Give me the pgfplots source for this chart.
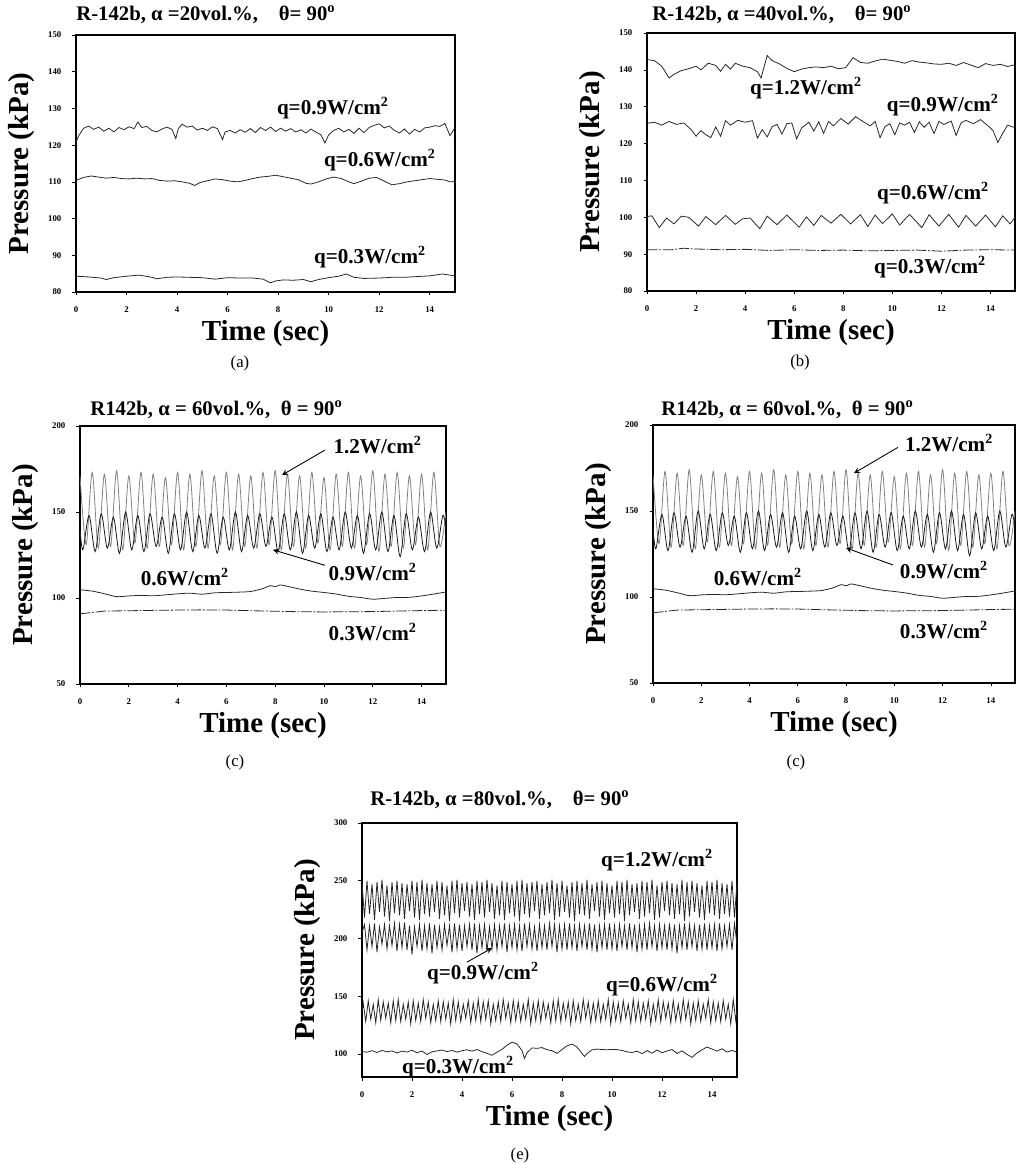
\documentclass[border=0pt]{standalone}
\usepackage{fontspec}
\setmainfont{Liberation Serif}
\usepackage{pgfplots}
\usepackage{pgfplotstable}
\pgfplotsset{compat=1.18}

\pgfplotsset{
  panel/.style={
    scale only axis,
    xmin=0, xmax=15,
    xtick={0,2,...,14},
    axis line style={line width=0.6pt},
    tick style={black, line width=0.4pt},
    major tick length=0.07cm,
    tick align=outside,
    tick pos=left,
    ticklabel style={font=\fontsize{5}{6}\selectfont\bfseries},
    /pgf/number format/assume math mode=true,
    xticklabel style={yshift=-0.1cm},
    yticklabel style={xshift=-0.1cm},
    xlabel={Time (sec)},
    ylabel={Pressure (kPa)},
    every axis x label/.style={at={(axis description cs:0.5,0)}, yshift=-0.84cm, anchor=center,
      font=\fontsize{16.5}{18}\selectfont\bfseries},
    every axis y label/.style={at={(axis description cs:0,0.5)}, xshift=-1.08cm, rotate=90, anchor=center,
      font=\fontsize{16.5}{18}\selectfont\bfseries},
    clip mode=individual,
    cycle list={{black!85}},
    every axis plot/.append style={line width=0.45pt, no markers},
  },
}
\tikzset{
  lab/.style={font=\fontsize{12}{14}\selectfont\bfseries},
  ttl/.style={anchor=west, inner sep=0pt, font=\fontsize{11.8}{13}\selectfont\bfseries},
  sub/.style={font=\fontsize{9.5}{11}\selectfont},
}

% panel (c): 1.2 W/cm2 and 0.9 W/cm2 (same data in both (c) panels)
\pgfplotstableread{
t p
0 171
0.25 131
0.5 173
0.75 129
1.0 172
1.25 130
1.5 174
1.75 128
2.0 171
2.25 132
2.5 173
2.75 129
3.0 172
3.25 130
3.5 170
3.75 131
4.0 173
4.25 128
4.5 172
4.75 130
5.0 174
5.25 129
5.5 171
5.75 131
6.0 173
6.25 128
6.5 172
6.75 130
7.0 171
7.25 129
7.5 173
7.75 131
8.0 174
8.25 128
8.5 172
8.75 130
9.0 171
9.25 129
9.5 173
9.75 132
10.0 170
10.25 128
10.5 172
10.75 130
11.0 173
11.25 129
11.5 171
11.75 131
12.0 174
12.25 127
12.5 172
12.75 130
13.0 173
13.25 129
13.5 171
13.75 131
14.0 172
14.25 128
14.5 173
14.75 130
15.0 150
}\cTwelve

\pgfplotstableread{
t p
0 140
0.12 128
0.37 148
0.62 127
0.87 149
1.12 129
1.37 147
1.62 126
1.87 150
2.12 128
2.37 148
2.62 127
2.87 149
3.12 130
3.37 147
3.62 126
3.87 149
4.12 128
4.37 150
4.62 127
4.87 148
5.12 129
5.37 149
5.62 126
5.87 147
6.12 128
6.37 150
6.62 127
6.87 148
7.12 129
7.37 149
7.62 130
7.87 147
8.12 127
8.37 149
8.62 128
8.87 150
9.12 126
9.37 148
9.62 129
9.87 149
10.12 127
10.37 147
10.62 128
10.87 150
11.12 129
11.37 148
11.62 126
11.87 149
12.12 128
12.37 150
12.62 127
12.87 148
13.12 124
13.37 149
13.62 128
13.87 147
14.12 127
14.37 150
14.62 129
14.87 148
15.0 140
}\cNine

\pgfplotstableread{
t p
0 104.8
0.5 104.0
1.0 102.5
1.5 100.8
2.0 101.2
2.5 101.5
3.0 101.3
3.5 101.8
4.0 102.4
4.5 102.8
5.0 102.2
5.5 103.0
6.0 103.2
6.5 103.4
7.0 103.8
7.5 105.5
7.8 107.2
8.0 106.5
8.2 107.6
8.5 106.8
9.0 105.2
9.5 104.0
10.0 103.2
10.5 102.3
11.0 101.0
11.5 100.3
12.0 99.3
12.5 99.8
13.0 100.3
13.5 100.4
14.0 101.2
14.5 102.3
15.0 103.5
}\cSix

\pgfplotstableread{
t p
0 90.8
0.5 91.6
1.0 92.4
2.0 92.6
3.0 92.8
4.0 93.0
5.0 93.1
6.0 93.0
7.0 92.6
8.0 92.3
9.0 92.0
10.0 91.9
11.0 92.0
12.0 92.1
13.0 92.4
14.0 92.7
15.0 92.9
}\cThree

\begin{document}
\begin{tikzpicture}
\useasboundingbox (0,0) rectangle (20.32,23.28);

% ---------------- (a) ----------------
\begin{axis}[panel, at={(1.52cm,17.44cm)}, anchor=south west,
    width=7.58cm, height=5.14cm, ymin=80, ymax=150, ytick={80,90,...,150}]
\addplot coordinates {(0,120.8)(0.1,122.5)(0.3,124.6)(0.5,125.2)(0.7,124.3)(0.9,124.9)(1.1,123.8)(1.3,124.6)(1.5,123.6)(1.7,124.8)(1.9,124.2)(2.1,125.0)(2.3,124.5)(2.45,126.3)(2.6,124.8)(2.8,125.1)(3.0,124.0)(3.2,123.6)(3.4,124.4)(3.6,124.9)(3.8,124.3)(3.95,121.8)(4.05,124.5)(4.2,125.7)(4.4,124.9)(4.6,125.2)(4.8,124.1)(5.0,124.6)(5.2,124.0)(5.4,125.0)(5.6,124.5)(5.8,121.5)(5.9,123.6)(6.1,124.0)(6.3,123.3)(6.5,124.2)(6.7,123.5)(6.9,124.5)(7.1,123.4)(7.3,124.8)(7.5,124.0)(7.7,124.9)(7.9,123.7)(8.1,124.6)(8.3,123.8)(8.5,124.5)(8.7,123.6)(8.9,124.2)(9.1,123.3)(9.3,124.4)(9.5,123.5)(9.7,122.8)(9.85,120.6)(10.0,122.8)(10.2,124.0)(10.4,124.6)(10.6,123.6)(10.8,124.3)(11.0,123.2)(11.2,124.6)(11.4,123.4)(11.6,124.8)(11.8,125.4)(12.0,125.8)(12.2,124.7)(12.4,125.2)(12.6,124.0)(12.8,123.3)(13.0,124.4)(13.2,123.0)(13.4,124.3)(13.6,123.6)(13.8,124.7)(14.0,124.9)(14.2,125.3)(14.4,125.1)(14.6,125.9)(14.8,122.6)(15.0,124.8)};
\addplot coordinates {(0,110.4)(0.3,111.2)(0.6,111.6)(0.9,111.3)(1.2,111.0)(1.5,111.2)(1.8,110.9)(2.1,110.8)(2.4,111.0)(2.7,110.8)(3.0,110.9)(3.3,110.4)(3.6,110.2)(3.9,110.3)(4.2,110.0)(4.5,109.6)(4.7,109.0)(4.9,109.8)(5.2,110.3)(5.5,110.8)(5.8,110.6)(6.1,110.2)(6.4,110.0)(6.7,110.4)(7.0,110.9)(7.3,111.3)(7.6,111.5)(7.9,111.8)(8.2,111.4)(8.5,111.0)(8.8,110.6)(9.1,109.6)(9.3,109.4)(9.6,110.0)(9.9,110.8)(10.2,111.3)(10.5,110.9)(10.8,110.0)(11.0,109.5)(11.3,110.2)(11.6,111.0)(11.9,111.2)(12.2,110.2)(12.5,109.2)(12.8,109.5)(13.1,110.0)(13.4,110.3)(13.7,110.6)(14.0,110.9)(14.3,110.7)(14.6,110.5)(14.8,110.0)(15.0,110.1)};
\addplot coordinates {(0,84.3)(0.5,84.1)(1.0,83.8)(1.2,83.4)(1.5,83.9)(2.0,84.3)(2.5,84.6)(3.0,84.0)(3.2,83.6)(3.6,84.0)(4.0,84.1)(4.5,84.0)(5.0,83.9)(5.5,83.5)(6.0,83.9)(6.5,83.8)(7.0,83.8)(7.4,83.5)(7.7,82.5)(7.9,83.0)(8.2,83.3)(8.6,83.2)(9.0,83.4)(9.3,82.8)(9.6,83.4)(10.0,83.9)(10.4,84.3)(10.7,84.9)(11.0,84.0)(11.4,83.7)(12.0,83.8)(12.5,84.0)(13.0,84.0)(13.5,84.2)(14.0,84.4)(14.5,84.9)(15.0,84.4)};
\node[lab] at (axis cs:10.17,130.1) {q=0.9W/cm\textsuperscript{2}};
\node[lab] at (axis cs:12.03,116.0) {q=0.6W/cm\textsuperscript{2}};
\node[lab] at (axis cs:11.64,89.5) {q=0.3W/cm\textsuperscript{2}};
\end{axis}

% ---------------- (b) ----------------
\begin{axis}[panel, at={(12.94cm,17.46cm)}, anchor=south west,
    width=7.36cm, height=5.16cm, ymin=80, ymax=150, ytick={80,90,...,150}]
\addplot coordinates {(0,142.8)(0.3,142.5)(0.6,141.0)(0.9,137.8)(1.1,138.8)(1.4,139.8)(1.7,140.3)(2.0,141.0)(2.2,140.0)(2.5,141.8)(2.8,141.2)(3.0,139.6)(3.2,141.5)(3.4,140.2)(3.6,141.8)(3.9,141.0)(4.2,140.6)(4.5,139.5)(4.65,137.8)(4.9,143.9)(5.1,142.5)(5.4,141.6)(5.7,140.4)(6.0,139.5)(6.3,140.2)(6.6,140.6)(6.9,140.8)(7.2,140.6)(7.5,141.0)(7.8,140.3)(8.1,140.6)(8.4,143.3)(8.7,142.0)(9.0,141.8)(9.3,142.4)(9.6,142.9)(9.9,142.6)(10.2,142.3)(10.5,141.8)(10.8,142.5)(11.1,142.1)(11.4,141.9)(11.7,141.6)(12.0,141.5)(12.3,141.8)(12.6,141.2)(12.9,142.0)(13.2,141.3)(13.5,140.6)(13.8,141.7)(14.1,141.2)(14.4,141.5)(14.7,140.9)(15.0,141.4)};
\addplot coordinates {(0,125.5)(0.3,125.8)(0.6,125.0)(0.9,126.0)(1.2,125.2)(1.5,125.6)(1.8,123.8)(2.0,122.0)(2.2,123.5)(2.4,122.4)(2.6,121.6)(2.8,124.5)(3.0,122.0)(3.2,126.2)(3.4,125.0)(3.7,126.3)(4.0,125.8)(4.3,126.2)(4.5,121.5)(4.7,123.8)(4.9,121.8)(5.1,124.6)(5.3,125.2)(5.5,122.6)(5.7,125.4)(5.9,125.6)(6.1,121.3)(6.3,124.2)(6.6,125.8)(6.8,123.4)(7.0,125.9)(7.2,122.8)(7.4,126.0)(7.6,124.8)(7.9,126.8)(8.2,125.3)(8.5,127.3)(8.8,126.0)(9.1,124.8)(9.3,126.0)(9.5,121.6)(9.7,124.6)(9.9,125.4)(10.1,122.4)(10.3,125.6)(10.5,125.0)(10.7,125.8)(10.9,123.0)(11.1,125.9)(11.3,124.4)(11.5,125.8)(11.7,122.7)(11.9,126.0)(12.1,125.2)(12.4,126.1)(12.6,122.2)(12.8,125.6)(13.0,126.3)(13.3,125.4)(13.6,126.5)(13.9,124.8)(14.1,123.6)(14.3,120.3)(14.5,122.8)(14.7,125.0)(15.0,124.3)};
\addplot coordinates {(0,100.2)(0.2,100.4)(0.5,97.2)(0.8,99.8)(1.1,98.2)(1.4,100.3)(1.7,100.0)(2.1,97.6)(2.4,100.2)(2.8,98.0)(3.2,100.5)(3.6,98.1)(3.9,99.6)(4.2,99.8)(4.6,96.9)(4.9,100.3)(5.3,98.0)(5.7,100.6)(6.2,97.3)(6.5,100.1)(6.8,97.8)(7.1,100.5)(7.5,98.4)(7.9,100.8)(8.3,98.2)(8.7,100.7)(9.0,97.5)(9.3,100.6)(9.6,98.3)(10.0,100.9)(10.3,97.9)(10.7,100.8)(11.2,97.2)(11.5,100.7)(11.9,97.6)(12.3,100.8)(12.7,97.3)(13.0,100.5)(13.4,97.6)(13.8,100.6)(14.2,97.4)(14.5,100.4)(14.8,98.2)(15.0,100.0)};
\addplot[black!85, dash pattern=on 6pt off 1pt on 1pt off 1pt] coordinates {(0,91.2)(1,91.2)(1.5,91.6)(2,91.4)(3,91.2)(4,91.3)(5,91.0)(6,91.2)(7,91.0)(8,91.1)(9,90.9)(10,91.0)(11,91.1)(12,90.8)(13,91.1)(14,91.2)(15,91.1)};
\node[lab] at (axis cs:6.48,135.1) {q=1.2W/cm\textsuperscript{2}};
\node[lab] at (axis cs:12.06,130.5) {q=0.9W/cm\textsuperscript{2}};
\node[lab] at (axis cs:11.66,106.6) {q=0.6W/cm\textsuperscript{2}};
\node[lab] at (axis cs:11.54,86.5) {q=0.3W/cm\textsuperscript{2}};
\end{axis}

% ---------------- (c) left ----------------
\begin{axis}[panel, at={(1.60cm,9.60cm)}, anchor=south west,
    width=7.32cm, height=5.16cm, ymin=50, ymax=200, ytick={50,100,150,200}]
\addplot[black!50, smooth] table {\cTwelve};
\addplot[black!90, smooth] table {\cNine};
\addplot[black!85, smooth] table {\cSix};
\addplot[black!85, dash pattern=on 6pt off 1pt on 1pt off 1pt] table {\cThree};
\node[lab] at (axis cs:12.2,189) {1.2W/cm\textsuperscript{2}};
\node[lab] at (axis cs:12.0,115.1) {0.9W/cm\textsuperscript{2}};
\node[lab] at (axis cs:4.3,112.2) {0.6W/cm\textsuperscript{2}};
\node[lab] at (axis cs:12.0,80.2) {0.3W/cm\textsuperscript{2}};
\draw[-stealth, line width=0.5pt] (axis cs:10.04,186) -- (axis cs:8.28,171.5);
\draw[-stealth, line width=0.5pt] (axis cs:10.04,119) -- (axis cs:7.91,128);
\end{axis}

% ---------------- (c) right ----------------
\begin{axis}[panel, at={(13.06cm,9.62cm)}, anchor=south west,
    width=7.24cm, height=5.16cm, ymin=50, ymax=200, ytick={50,100,150,200}]
\addplot[black!50, smooth] table {\cTwelve};
\addplot[black!90, smooth] table {\cNine};
\addplot[black!85, smooth] table {\cSix};
\addplot[black!85, dash pattern=on 6pt off 1pt on 1pt off 1pt] table {\cThree};
\node[lab] at (axis cs:12.27,189.5) {1.2W/cm\textsuperscript{2}};
\node[lab] at (axis cs:12.06,115.7) {0.9W/cm\textsuperscript{2}};
\node[lab] at (axis cs:4.35,111.6) {0.6W/cm\textsuperscript{2}};
\node[lab] at (axis cs:12.06,80.8) {0.3W/cm\textsuperscript{2}};
\draw[-stealth, line width=0.5pt] (axis cs:10.15,187) -- (axis cs:8.33,172);
\draw[-stealth, line width=0.5pt] (axis cs:9.95,118.6) -- (axis cs:8.0,128.5);
\end{axis}

% ---------------- (e) ----------------
\begin{axis}[panel, at={(7.24cm,1.74cm)}, anchor=south west,
    width=7.5cm, height=5.08cm, ymin=80, ymax=300, ytick={100,150,...,300}]
\addplot coordinates {
(0,248)(0.1,218)(0.2,250)(0.3,221)(0.4,247)(0.5,216)(0.6,249)(0.7,223)(0.8,251)(0.9,219)
(1.0,246)(1.1,215)(1.2,249)(1.3,222)(1.4,250)(1.5,220)(1.6,248)(1.7,217)(1.8,247)(1.9,224)
(2.0,250)(2.1,218)(2.2,249)(2.3,216)(2.4,251)(2.5,221)(2.6,248)(2.7,219)(2.8,247)(2.9,223)
(3.0,250)(3.1,217)(3.2,249)(3.3,220)(3.4,246)(3.5,215)(3.6,250)(3.7,222)(3.8,251)(3.9,218)
(4.0,248)(4.1,224)(4.2,249)(4.3,219)(4.4,247)(4.5,216)(4.6,250)(4.7,221)(4.8,249)(4.9,218)
(5.0,251)(5.1,223)(5.2,248)(5.3,217)(5.4,246)(5.5,220)(5.6,250)(5.7,216)(5.8,249)(5.9,222)
(6.0,247)(6.1,219)(6.2,250)(6.3,215)(6.4,251)(6.5,221)(6.6,248)(6.7,218)(6.8,249)(6.9,224)
(7.0,250)(7.1,217)(7.2,247)(7.3,220)(7.4,249)(7.5,222)(7.6,251)(7.7,216)(7.8,248)(7.9,219)
(8.0,250)(8.1,223)(8.2,246)(8.3,218)(8.4,249)(8.5,215)(8.6,250)(8.7,221)(8.8,248)(8.9,220)
(9.0,251)(9.1,217)(9.2,247)(9.3,224)(9.4,249)(9.5,219)(9.6,250)(9.7,216)(9.8,248)(9.9,222)
(10.0,246)(10.1,218)(10.2,250)(10.3,221)(10.4,249)(10.5,215)(10.6,251)(10.7,220)(10.8,247)(10.9,223)
(11.0,248)(11.1,217)(11.2,250)(11.3,219)(11.4,249)(11.5,222)(11.6,251)(11.7,216)(11.8,246)(11.9,218)
(12.0,249)(12.1,224)(12.2,250)(12.3,220)(12.4,248)(12.5,217)(12.6,247)(12.7,221)(12.8,251)(12.9,215)
(13.0,249)(13.1,219)(13.2,250)(13.3,223)(13.4,248)(13.5,218)(13.6,246)(13.7,216)(13.8,250)(13.9,222)
(14.0,249)(14.1,220)(14.2,251)(14.3,217)(14.4,248)(14.5,221)(14.6,247)(14.7,219)(14.8,250)(14.9,218)
(15.0,249)};
\addplot coordinates {
(0,205)(0.1,212)(0.2,190)(0.3,211)(0.4,193)(0.5,213)(0.6,188)(0.7,210)(0.8,195)(0.9,212)
(1.0,191)(1.1,211)(1.2,194)(1.3,213)(1.4,189)(1.5,212)(1.6,192)(1.7,214)(1.8,190)(1.9,211)
(2.0,186)(2.1,210)(2.2,193)(2.3,212)(2.4,189)(2.5,211)(2.6,191)(2.7,213)(2.8,187)(2.9,212)
(3.0,192)(3.1,210)(3.2,190)(3.3,212)(3.4,194)(3.5,211)(3.6,188)(3.7,213)(3.8,191)(3.9,212)
(4.0,189)(4.1,211)(4.2,193)(4.3,212)(4.4,190)(4.5,213)(4.6,187)(4.7,211)(4.8,192)(4.9,212)
(5.0,189)(5.1,210)(5.2,191)(5.3,212)(5.4,190)(5.5,211)(5.6,193)(5.7,213)(5.8,188)(5.9,211)
(6.0,192)(6.1,212)(6.2,190)(6.3,211)(6.4,189)(6.5,213)(6.6,193)(6.7,212)(6.8,191)(6.9,210)
(7.0,189)(7.1,212)(7.2,192)(7.3,211)(7.4,190)(7.5,213)(7.6,193)(7.7,212)(7.8,188)(7.9,211)
(8.0,191)(8.1,212)(8.2,190)(8.3,213)(8.4,192)(8.5,211)(8.6,189)(8.7,212)(8.8,193)(8.9,211)
(9.0,190)(9.1,213)(9.2,191)(9.3,212)(9.4,188)(9.5,211)(9.6,192)(9.7,212)(9.8,190)(9.9,213)
(10.0,191)(10.1,211)(10.2,189)(10.3,212)(10.4,193)(10.5,211)(10.6,190)(10.7,213)(10.8,192)(10.9,212)
(11.0,188)(11.1,211)(11.2,191)(11.3,212)(11.4,190)(11.5,213)(11.6,193)(11.7,211)(11.8,189)(11.9,212)
(12.0,192)(12.1,211)(12.2,190)(12.3,213)(12.4,191)(12.5,212)(12.6,187)(12.7,211)(12.8,192)(12.9,213)
(13.0,190)(13.1,212)(13.2,193)(13.3,211)(13.4,189)(13.5,212)(13.6,191)(13.7,213)(13.8,190)(13.9,211)
(14.0,192)(14.1,212)(14.2,189)(14.3,213)(14.4,191)(14.5,211)(14.6,193)(14.7,212)(14.8,190)(14.9,213)
(15.0,195)};
\addplot coordinates {
(0,136)(0.05,144)(0.15,128)(0.25,146)(0.35,130)(0.45,143)(0.55,127)(0.65,147)(0.75,129)(0.85,145)(0.95,131)
(1.05,144)(1.15,127)(1.25,146)(1.35,129)(1.45,147)(1.55,128)(1.65,143)(1.75,130)(1.85,145)(1.95,126)
(2.05,146)(2.15,129)(2.25,144)(2.35,128)(2.45,147)(2.55,131)(2.65,145)(2.75,127)(2.85,143)(2.95,129)
(3.05,146)(3.15,128)(3.25,145)(3.35,130)(3.45,144)(3.55,126)(3.65,147)(3.75,129)(3.85,145)(3.95,128)
(4.05,143)(4.15,131)(4.25,146)(4.35,127)(4.45,144)(4.55,129)(4.65,147)(4.75,128)(4.85,145)(4.95,130)
(5.05,146)(5.15,126)(5.25,143)(5.35,129)(5.45,145)(5.55,128)(5.65,147)(5.75,131)(5.85,144)(5.95,127)
(6.05,146)(6.15,129)(6.25,145)(6.35,128)(6.45,143)(6.55,130)(6.65,147)(6.75,126)(6.85,144)(6.95,129)
(7.05,146)(7.15,128)(7.25,145)(7.35,131)(7.45,143)(7.55,127)(7.65,146)(7.75,129)(7.85,147)(7.95,128)
(8.05,144)(8.15,130)(8.25,145)(8.35,126)(8.45,146)(8.55,129)(8.65,143)(8.75,128)(8.85,147)(8.95,131)
(9.05,145)(9.15,127)(9.25,144)(9.35,129)(9.45,146)(9.55,128)(9.65,143)(9.75,130)(9.85,147)(9.95,126)
(10.05,145)(10.15,129)(10.25,144)(10.35,128)(10.45,146)(10.55,131)(10.65,143)(10.75,127)(10.85,147)(10.95,129)
(11.05,145)(11.15,128)(11.25,144)(11.35,130)(11.45,146)(11.55,126)(11.65,143)(11.75,129)(11.85,147)(11.95,128)
(12.05,145)(12.15,131)(12.25,144)(12.35,127)(12.45,146)(12.55,129)(12.65,143)(12.75,128)(12.85,147)(12.95,130)
(13.05,145)(13.15,126)(13.25,144)(13.35,129)(13.45,146)(13.55,128)(13.65,143)(13.75,131)(13.85,147)(13.95,127)
(14.05,145)(14.15,129)(14.25,144)(14.35,128)(14.45,146)(14.55,130)(14.65,143)(14.75,126)(14.85,147)(14.95,129)
(15,138)};
\addplot coordinates {(0,102)(0.2,101.5)(0.4,102.8)(0.6,101.2)(0.8,103.0)(1.0,101.8)(1.2,102.6)(1.4,100.8)(1.6,102.4)(1.8,101.6)(2.0,103.2)(2.2,101.0)(2.4,102.5)(2.6,99.5)(2.8,101.8)(3.0,102.6)(3.2,103.3)(3.4,102.0)(3.6,103.0)(3.8,101.5)(4.0,102.8)(4.2,103.6)(4.4,102.4)(4.6,103.8)(4.8,102.0)(5.0,100.5)(5.2,98.8)(5.4,101.5)(5.6,104.0)(5.8,107.5)(6.0,110.2)(6.2,108.6)(6.4,103.0)(6.5,96.0)(6.6,101.0)(6.8,105.2)(7.0,104.8)(7.2,105.5)(7.4,103.6)(7.6,102.8)(7.8,100.5)(8.0,103.8)(8.2,107.0)(8.4,108.5)(8.6,106.0)(8.8,100.5)(8.9,97.8)(9.0,100.2)(9.2,103.5)(9.4,104.2)(9.6,103.8)(9.8,103.6)(10.0,103.9)(10.2,103.7)(10.4,103.0)(10.6,101.8)(10.8,101.2)(11.0,102.4)(11.2,100.2)(11.4,102.8)(11.6,100.6)(11.8,103.4)(12.0,101.0)(12.2,102.5)(12.4,103.8)(12.6,100.4)(12.8,102.6)(13.0,99.6)(13.2,97.0)(13.4,100.8)(13.6,103.5)(13.8,106.0)(14.0,104.2)(14.2,102.4)(14.4,104.5)(14.6,101.6)(14.8,103.0)(15.0,101.4)};
\node[lab] at (axis cs:11.8,268) {q=1.2W/cm\textsuperscript{2}};
\node[lab] at (axis cs:4.84,170.1) {q=0.9W/cm\textsuperscript{2}};
\node[lab] at (axis cs:12.0,159.7) {q=0.6W/cm\textsuperscript{2}};
\node[lab] at (axis cs:3.84,88.5) {q=0.3W/cm\textsuperscript{2}};
\draw[-stealth, line width=0.5pt] (axis cs:4.2,179.5) -- (axis cs:5.2,191.7);
\end{axis}

% titles and panel letters
\node[ttl] at (1.52,22.98) {R-142b, α =20vol.\%,\quad θ= 90\textsuperscript{o}};
\node[ttl] at (13.04,22.98) {R-142b, α =40vol.\%,\quad θ= 90\textsuperscript{o}};
\node[ttl] at (1.80,15.08) {R142b, α = 60vol.\%,\ \ θ = 90\textsuperscript{o}};
\node[ttl] at (13.22,15.08) {R142b, α = 60vol.\%,\ \ θ = 90\textsuperscript{o}};
\node[ttl] at (7.40,7.28) {R-142b, α =80vol.\%,\quad θ= 90\textsuperscript{o}};
\node[sub] at (4.80,16.02) {(a)};
\node[sub] at (16.00,16.04) {(b)};
\node[sub] at (4.70,8.04) {(c)};
\node[sub] at (15.92,8.04) {(c)};
\node[sub] at (10.40,0.18) {(e)};
\end{tikzpicture}
\end{document}
